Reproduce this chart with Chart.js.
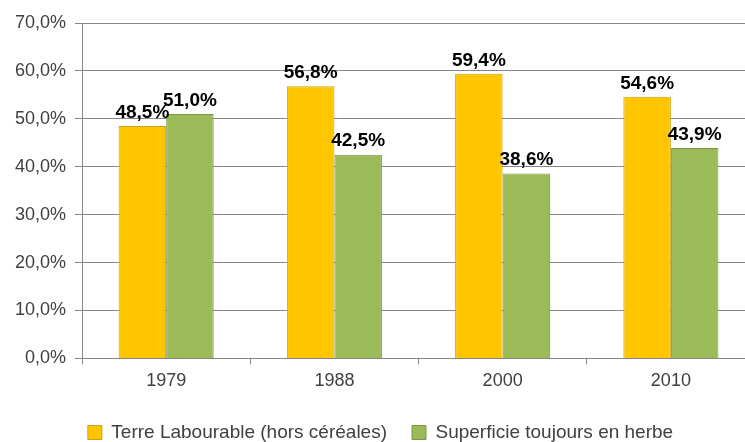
<!DOCTYPE html>
<html lang="fr">
<head>
    <meta charset="UTF-8">
    <title>Terre labourable et superficie toujours en herbe</title>
    <script src="https://cdn.jsdelivr.net/npm/chart.js"></script>
    <style>
        html, body { margin: 0; padding: 0; background: #fff; overflow: hidden; }
        #wrap { width: 775px; height: 452px; }
    </style>
</head>
<body>
    <div id="wrap"><canvas id="surfaceChart"></canvas></div>

    <script>
        // Données
        const annees = ['1979', '1988', '2000', '2010'];
        const terreLabourable = [48.5, 56.8, 59.4, 54.6];
        const toujoursEnHerbe = [51.0, 42.5, 38.6, 43.9];
        const nomsSeries = ['Terre Labourable (hors céréales)', 'Superficie toujours en herbe'];

        const police = "'Liberation Sans', Arial, sans-serif";

        function pct(v) {
            return v.toFixed(1).replace('.', ',') + '%';
        }

        // Etiquettes de valeur au-dessus des barres
        const etiquettes = {
            id: 'etiquettes',
            afterDatasetsDraw(chart) {
                const ctx = chart.ctx;
                ctx.save();
                ctx.font = 'bold 19px ' + police;
                ctx.fillStyle = '#000';
                ctx.textAlign = 'center';
                ctx.textBaseline = 'bottom';
                chart.data.datasets.forEach((ds, i) => {
                    chart.getDatasetMeta(i).data.forEach((bar, j) => {
                        ctx.fillText(pct(ds.data[j]), bar.x, bar.y - 4);
                    });
                });
                ctx.restore();
            }
        };

        new Chart(document.getElementById('surfaceChart'), {
            type: 'bar',
            data: {
                labels: annees,
                datasets: [{
                    label: nomsSeries[0],
                    data: terreLabourable,
                    backgroundColor: '#FFC600',
                    borderColor: '#C9A21A',
                    borderWidth: 1
                }, {
                    label: nomsSeries[1],
                    data: toujoursEnHerbe,
                    backgroundColor: '#9BBB59',
                    borderColor: '#7D9648',
                    borderWidth: 1
                }]
            },
            options: {
                responsive: true,
                maintainAspectRatio: false,
                animation: false,
                layout: { padding: { top: 23, right: 20, left: 6, bottom: 0 } },
                datasets: { bar: { categoryPercentage: 0.565, barPercentage: 1 } },
                scales: {
                    x: {
                        grid: { drawOnChartArea: false, color: '#868686', tickLength: 6 },
                        border: { color: '#868686' },
                        ticks: { color: '#404040', font: { family: police, size: 18 }, padding: 6 }
                    },
                    y: {
                        min: 0,
                        max: 70,
                        grid: { color: '#868686', tickLength: 7 },
                        border: { color: '#868686' },
                        ticks: {
                            stepSize: 10,
                            color: '#404040',
                            font: { family: police, size: 18 },
                            padding: 9,
                            callback: v => pct(v)
                        }
                    }
                },
                plugins: {
                    tooltip: { enabled: false },
                    legend: {
                        position: 'bottom',
                        labels: {
                            color: '#404040',
                            font: { family: police, size: 19 },
                            boxWidth: 14,
                            boxHeight: 14,
                            padding: 25
                        }
                    }
                }
            },
            plugins: [etiquettes]
        });
    </script>
</body>
</html>
